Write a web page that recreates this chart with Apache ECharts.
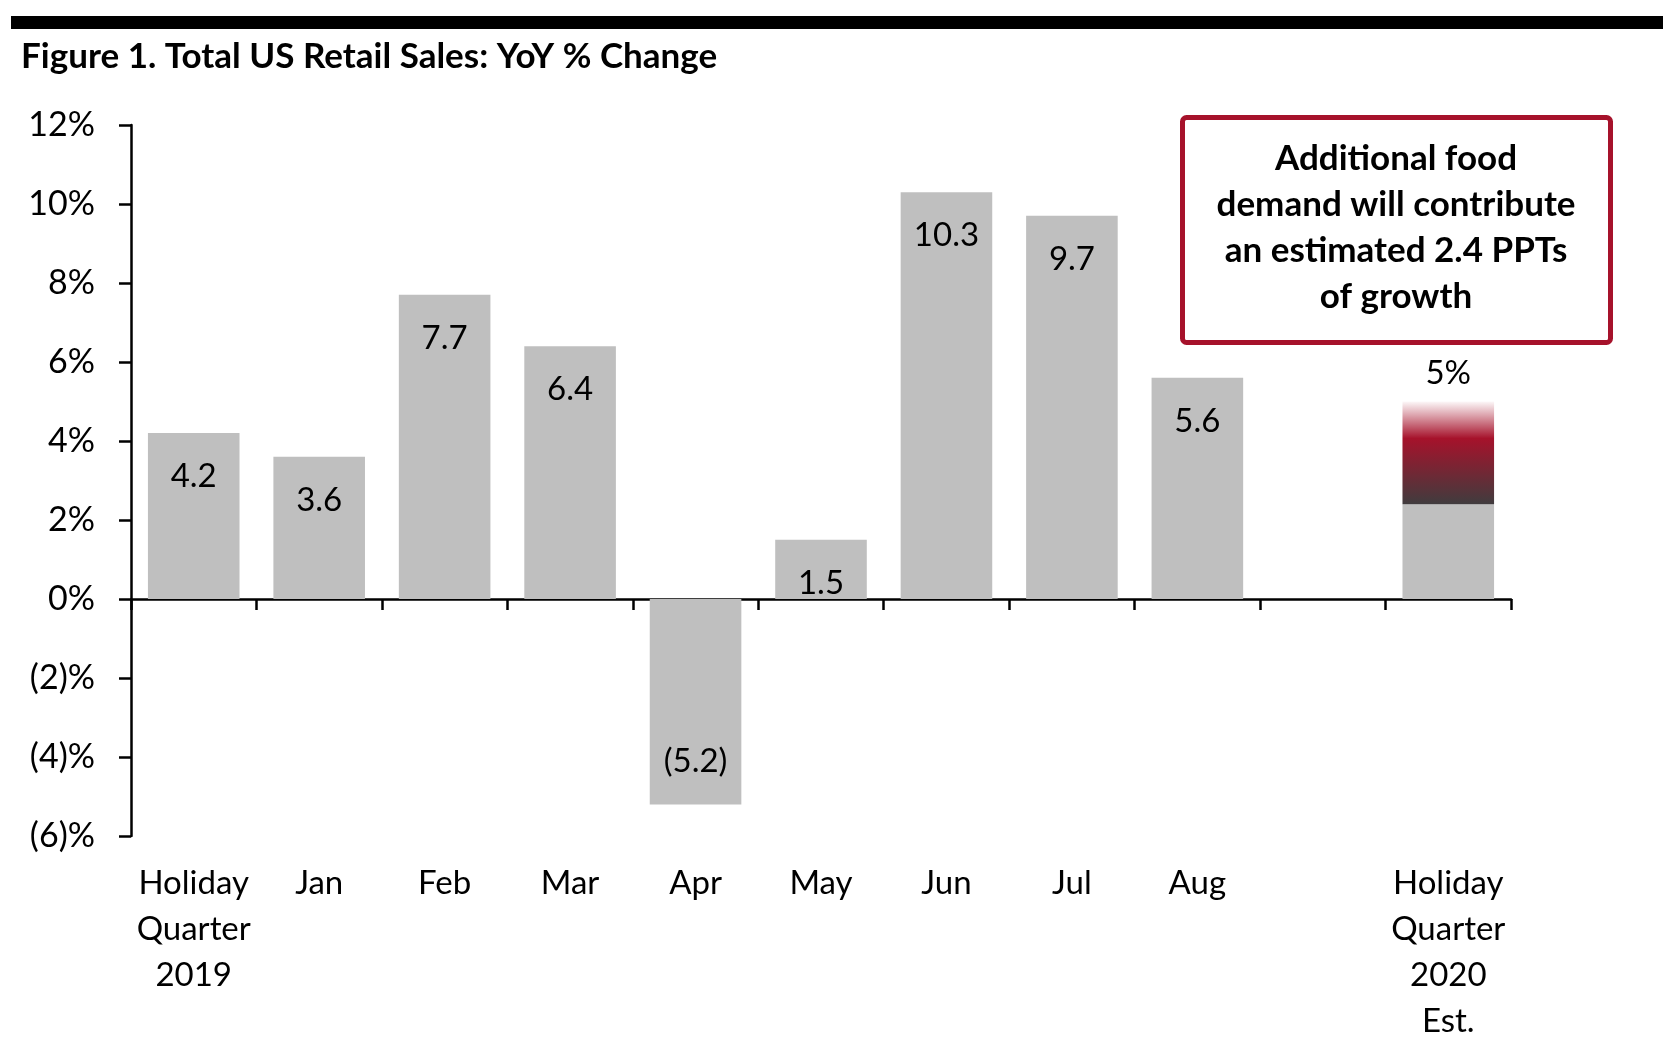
<!DOCTYPE html>
<html>
<head>
<meta charset="utf-8">
<script src="https://cdn.jsdelivr.net/npm/echarts@6/dist/echarts.min.js"></script>
<style>
html,body{margin:0;padding:0;background:#fff;}
#chart{width:1663px;height:1061px;}
</style>
</head>
<body>
<div id="chart"></div>
<script>
// ---- data ----
const categories = ['Holiday\nQuarter\n2019', 'Jan', 'Feb', 'Mar', 'Apr', 'May', 'Jun', 'Jul', 'Aug', '', 'Holiday\nQuarter\n2020\nEst.'];
const retailSales = [4.2, 3.6, 7.7, 6.4, -5.2, 1.5, 10.3, 9.7, 5.6, null, 2.4];
const estimateTop = [null, null, null, null, null, null, null, null, null, null, 2.6];
const estimateTotal = 5;
const yTicks = { min: -6, max: 12, interval: 2 };
const titleText = 'Figure 1. Total US Retail Sales: YoY % Change';
const noteText = 'Additional food\ndemand will contribute\nan estimated 2.4 PPTs\nof growth';

const FONT = 'Lato, "Open Sans", sans-serif';
const gray = '#BFBFBF';
const crimson = '#A6122B';

const grayData = retailSales.map((v, i) => {
  if (v === null) return null;
  const showLabel = i !== categories.length - 1;
  return {
    value: v,
    label: {
      show: showLabel,
      position: v < 0 ? 'insideBottom' : 'insideTop'
    }
  };
});

const chart = echarts.init(document.getElementById('chart'), null, { renderer: 'canvas' });
chart.setOption({
  animation: false,
  backgroundColor: '#fff',
  textStyle: { fontFamily: FONT },
  grid: { left: 131, right: 152, top: 125, bottom: 225, containLabel: false },
  xAxis: [
    {
      type: 'category',
      data: categories,
      position: 'bottom',
      axisLine: { show: true, onZero: true, lineStyle: { color: '#000', width: 2.5 } },
      axisTick: { show: true, length: 11, lineStyle: { color: '#000', width: 2.5 } },
      axisLabel: { show: false },
      splitLine: { show: false }
    },
    {
      type: 'category',
      data: categories,
      position: 'bottom',
      axisLine: { show: false, onZero: false },
      axisTick: { show: false },
      axisLabel: {
        show: true, interval: 0, margin: 24,
        fontFamily: FONT, fontSize: 33, color: '#000', lineHeight: 46
      },
      splitLine: { show: false }
    }
  ],
  yAxis: {
    type: 'value',
    min: yTicks.min, max: yTicks.max, interval: yTicks.interval,
    axisLine: { show: true, lineStyle: { color: '#000', width: 2.5 } },
    axisTick: { show: true, length: 12, lineStyle: { color: '#000', width: 2.5 } },
    splitLine: { show: false },
    axisLabel: {
      margin: 36, fontFamily: FONT, fontSize: 34, color: '#000',
      formatter: v => v < 0 ? '(' + Math.abs(v) + ')%' : v + '%'
    }
  },
  series: [
    {
      type: 'bar',
      stack: 'total',
      xAxisIndex: 0,
      data: grayData,
      barCategoryGap: '27%',
      itemStyle: { color: gray },
      label: {
        show: true,
        distance: 27,
        fontFamily: FONT, fontSize: 33, color: '#000',
        formatter: p => p.value < 0 ? '(' + Math.abs(p.value).toFixed(1) + ')' : p.value.toFixed(1)
      }
    },
    {
      type: 'bar',
      stack: 'total',
      xAxisIndex: 0,
      data: estimateTop,
      barCategoryGap: '27%',
      itemStyle: {
        color: new echarts.graphic.LinearGradient(0, 0, 0, 1, [
          { offset: 0, color: 'rgba(166,18,43,0.03)' },
          { offset: 0.12, color: 'rgba(166,18,43,0.35)' },
          { offset: 0.36, color: crimson },
          { offset: 1, color: '#403C3E' }
        ])
      },
      label: {
        show: true, position: 'top', distance: 12,
        fontFamily: FONT, fontSize: 33, color: '#000',
        formatter: () => estimateTotal + '%'
      }
    }
  ],
  graphic: [
    { type: 'rect', left: 11, top: 16, shape: { width: 1652, height: 13 }, style: { fill: '#000' }, silent: true },
    { type: 'text', left: 21, top: 39, style: { text: titleText, font: 'bold 35px ' + FONT, fill: '#000' } },
    {
      type: 'rect', left: 1180, top: 115,
      shape: { width: 428, height: 225, r: 4 },
      style: { fill: '#fff', stroke: crimson, lineWidth: 5 }
    },
    {
      type: 'text', x: 1396, y: 228,
      style: {
        text: noteText, font: 'bold 35px ' + FONT, fill: '#000',
        align: 'center', verticalAlign: 'middle', lineHeight: 46
      }
    }
  ]
});
</script>
</body>
</html>
